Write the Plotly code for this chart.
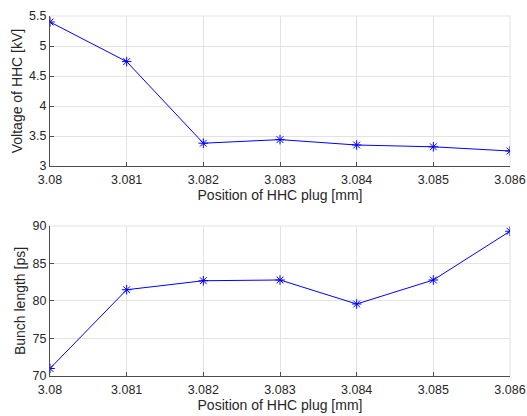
import plotly.graph_objects as go
from plotly.subplots import make_subplots

# HHC plug scan: position vs. harmonic-cavity voltage and bunch length
plug_position_mm = [3.080, 3.081, 3.082, 3.083, 3.084, 3.085, 3.086]
hhc_voltage_kv = [5.40, 4.74, 3.38, 3.44, 3.35, 3.32, 3.25]
bunch_length_ps = [71.0, 81.5, 82.7, 82.8, 79.6, 82.8, 89.3]

x_ticks = [3.080, 3.081, 3.082, 3.083, 3.084, 3.085, 3.086]
x_tick_text = ["3.08", "3.081", "3.082", "3.083", "3.084", "3.085", "3.086"]

BLUE = "rgb(0,0,255)"
AXIS = "#4d4d4d"
GRID = "#e3e3e3"
TEXT = "#262626"
FONT = "Liberation Sans, Arial, sans-serif"

fig = make_subplots(rows=2, cols=1, vertical_spacing=0.1667)
fig.update_layout(
    yaxis=dict(domain=[0.5833, 1.0]),
    yaxis2=dict(domain=[0.0, 0.4167]),
)

for row, yvals in ((1, hhc_voltage_kv), (2, bunch_length_ps)):
    fig.add_trace(
        go.Scatter(
            x=plug_position_mm,
            y=yvals,
            mode="lines+markers",
            line=dict(color=BLUE, width=1),
            marker=dict(symbol="asterisk-open", size=8,
                        line=dict(color=BLUE, width=1)),
            showlegend=False,
        ),
        row=row, col=1,
    )

common_x = dict(
    range=[3.080, 3.086],
    tickvals=x_ticks,
    ticktext=x_tick_text,
    showgrid=True, gridcolor=GRID, gridwidth=1,
    showline=True, linecolor=AXIS, linewidth=1,
    ticks="inside", ticklen=4, tickcolor=AXIS,
    ticklabelstandoff=2,
    zeroline=False,
    automargin=False,
    tickfont=dict(size=12.5, color=TEXT, family=FONT),
    title=dict(text="Position of HHC plug [mm]", standoff=2,
               font=dict(size=14, color=TEXT, family=FONT)),
)
fig.update_xaxes(**common_x, row=1, col=1)
fig.update_xaxes(**common_x, row=2, col=1)

common_y = dict(
    showgrid=True, gridcolor=GRID, gridwidth=1,
    showline=True, linecolor=AXIS, linewidth=1,
    ticks="inside", ticklen=4, tickcolor=AXIS,
    zeroline=False,
    automargin=False,
    tickfont=dict(size=12.5, color=TEXT, family=FONT),
)
fig.update_yaxes(**common_y, range=[3, 5.5], dtick=0.5,
                 title=dict(text="Voltage of HHC [kV]", standoff=3,
                            font=dict(size=14, color=TEXT, family=FONT)),
                 row=1, col=1)
fig.update_yaxes(**common_y, range=[70, 90], dtick=5,
                 title=dict(text="Bunch length [ps]", standoff=3,
                            font=dict(size=14, color=TEXT, family=FONT)),
                 row=2, col=1)

# light frame on the top and right edges of each panel
for xd, yd in (("x domain", "y domain"), ("x2 domain", "y2 domain")):
    fig.add_shape(type="line", xref=xd, yref=yd, x0=0, x1=1, y0=1, y1=1,
                  line=dict(color=GRID, width=1), layer="below")
    fig.add_shape(type="line", xref=xd, yref=yd, x0=1, x1=1, y0=0, y1=1,
                  line=dict(color=GRID, width=1), layer="below")

fig.update_layout(
    width=527, height=416,
    margin=dict(l=50, r=17, t=16, b=40),
    plot_bgcolor="white", paper_bgcolor="white",
    font=dict(family=FONT),
)

fig.write_html("out.html")
